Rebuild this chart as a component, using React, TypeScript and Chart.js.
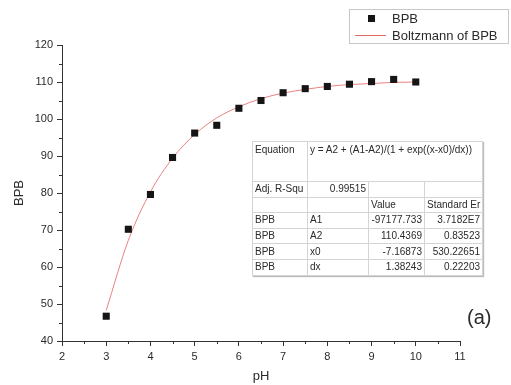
import React, { useEffect, useRef } from "react";
import { Chart, registerables } from "chart.js";

Chart.register(...registerables);

const phValues = [3, 3.5, 4, 4.5, 5, 5.5, 6, 6.5, 7, 7.5, 8, 8.5, 9, 9.5, 10];
const bpbValues = [46.7, 70.2, 79.6, 89.6, 96.2, 98.3, 102.9, 105.0, 107.1, 108.2, 108.8, 109.4, 110.1, 110.7, 110.0];
const fitX = [3, 3.5, 4, 4.5, 5, 5.5, 6, 6.5, 7, 7.5, 8, 8.5, 9, 9.5, 10];
const fitY = [48.3, 67.2, 80.3, 89.4, 95.8, 100.3, 103.3, 105.5, 107.0, 108.0, 108.8, 109.3, 109.6, 109.9, 110.0];
const xTickMin = 2;
const xTickMax = 11;
const yTickMin = 40;
const yTickMax = 120;

const tableRows: string[][] = [
  ["Adj. R-Squ", "0.99515", "", ""],
  ["", "", "Value", "Standard Er"],
  ["BPB", "A1", "-97177.733", "3.7182E7"],
  ["BPB", "A2", "110.4369", "0.83523"],
  ["BPB", "x0", "-7.16873", "530.22651"],
  ["BPB", "dx", "1.38243", "0.22203"],
];
const equationText = "y = A2 + (A1-A2)/(1 + exp((x-x0)/dx))";

const FONT = "'Liberation Sans', Arial, sans-serif";
const TEXT = "#2a2a2a";
const FIT_COLOR = "#e98080";

const minorTicks = {
  id: "minorTicks",
  afterDraw(chart: any) {
    const ctx = chart.ctx;
    const xs = chart.scales.x;
    const ys = chart.scales.y;
    ctx.save();
    ctx.strokeStyle = "#333";
    ctx.lineWidth = 1;
    ctx.beginPath();
    for (let v = xTickMin + 0.5; v < xTickMax; v += 1) {
      const px = Math.round(xs.getPixelForValue(v)) + 0.5;
      ctx.moveTo(px, xs.top);
      ctx.lineTo(px, xs.top + 3);
    }
    for (let v = yTickMin + 5; v < yTickMax; v += 10) {
      const py = Math.round(ys.getPixelForValue(v)) + 0.5;
      ctx.moveTo(ys.right, py);
      ctx.lineTo(ys.right - 3, py);
    }
    ctx.stroke();
    ctx.restore();
  },
};

export default function App() {
  const ref = useRef<HTMLCanvasElement>(null);
  useEffect(() => {
    const chart = new Chart(ref.current!, {
      type: "scatter",
      data: {
        datasets: [
          {
            label: "Boltzmann of BPB",
            data: fitX.map((x, i) => ({ x, y: fitY[i] })),
            showLine: true,
            borderColor: FIT_COLOR,
            borderWidth: 1,
            pointRadius: 0,
            cubicInterpolationMode: "monotone",
            order: 2,
          } as any,
          {
            label: "BPB",
            data: phValues.map((x, i) => ({ x, y: bpbValues[i] })),
            pointStyle: "rect",
            pointRadius: 5,
            backgroundColor: "#151515",
            borderColor: "#151515",
            borderWidth: 0,
            order: 1,
          },
        ],
      },
      options: {
        animation: false,
        responsive: false,
        layout: { padding: { left: 0, top: 45, right: 51, bottom: 0 } },
        plugins: { legend: { display: false }, tooltip: { enabled: false } },
        scales: {
          x: {
            type: "linear",
            min: xTickMin,
            max: xTickMax,
            afterFit: (s: any) => { s.height = 44; },
            ticks: { stepSize: 1, color: TEXT, font: { family: FONT, size: 11 }, padding: 4 },
            grid: { drawOnChartArea: false, drawTicks: true, tickLength: 5, tickColor: "#333" },
            border: { display: true, color: "#333", width: 1 },
            title: { display: true, text: "pH", color: TEXT, font: { family: FONT, size: 13 }, padding: { top: 0, bottom: 1 } },
          },
          y: {
            type: "linear",
            min: yTickMin,
            max: yTickMax,
            afterFit: (s: any) => { s.width = 62; },
            ticks: { stepSize: 10, color: TEXT, font: { family: FONT, size: 11 }, padding: 4 },
            grid: { drawOnChartArea: false, drawTicks: true, tickLength: 5, tickColor: "#333" },
            border: { display: true, color: "#333", width: 1 },
            title: { display: true, text: "BPB", color: TEXT, font: { family: FONT, size: 13 }, padding: { top: 12, bottom: 0 } },
          },
        },
      },
      plugins: [minorTicks],
    });
    return () => chart.destroy();
  }, []);

  const colW = [55, 61, 56, 58];
  const cell: React.CSSProperties = {
    border: "1px solid #d4d4d4",
    padding: "0 2px",
    height: 14.6,
    overflow: "hidden",
    whiteSpace: "nowrap",
    lineHeight: "14px",
  };
  const right = (i: number, r: number) => (r === 0 && i === 1) || (r >= 2 && i >= 2);

  return (
    <div style={{ position: "absolute", left: 0, top: 0, width: 511, height: 385, background: "#fff", fontFamily: FONT }}>
      <canvas ref={ref} width={511} height={385} style={{ display: "block" }} />
      {/* legend */}
      <div style={{ position: "absolute", left: 349, top: 9, width: 160, height: 35, border: "1px solid #c8c8c8", boxSizing: "border-box", color: TEXT, fontSize: 13 }}>
        <div style={{ position: "absolute", left: 18, top: 5, width: 7, height: 7, background: "#151515" }} />
        <div style={{ position: "absolute", left: 42, top: 0, lineHeight: "17px" }}>BPB</div>
        <div style={{ position: "absolute", left: 5, top: 25, width: 31, height: 0, borderTop: "1px solid #e46a6a" }} />
        <div style={{ position: "absolute", left: 42, top: 17, lineHeight: "17px" }}>Boltzmann of BPB</div>
      </div>
      {/* table */}
      <table style={{ position: "absolute", left: 252, top: 141, borderCollapse: "collapse", tableLayout: "fixed", width: 230, fontSize: 10, color: TEXT, background: "#fff", boxShadow: "1px 1px 1px #bbb" }}>
        <colgroup>
          {colW.map((w, i) => <col key={i} style={{ width: w }} />)}
        </colgroup>
        <tbody>
          <tr>
            <td style={{ ...cell, height: 38, verticalAlign: "top", paddingTop: 1 }}>Equation</td>
            <td colSpan={3} style={{ ...cell, height: 38, verticalAlign: "top", paddingTop: 1 }}>{equationText}</td>
          </tr>
          {tableRows.map((row, r) => (
            <tr key={r}>
              {row.map((c, i) => (
                <td key={i} style={{ ...cell, textAlign: right(i, r) ? "right" : "left" }}>{c}</td>
              ))}
            </tr>
          ))}
        </tbody>
      </table>
      <div style={{ position: "absolute", left: 467, top: 305, fontSize: 20, color: TEXT, lineHeight: "24px" }}>(a)</div>
    </div>
  );
}
